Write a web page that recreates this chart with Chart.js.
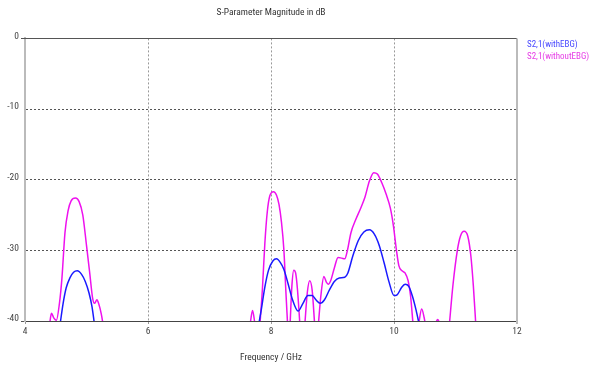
<!DOCTYPE html>
<html>
<head>
<meta charset="utf-8">
<script src="https://cdn.jsdelivr.net/npm/chart.js@4.4.1/dist/chart.umd.min.js"></script>
<style>
  html, body { margin: 0; padding: 0; background: #ffffff; }
  #wrap { width: 590px; height: 365px; }
</style>
</head>
<body>
<div id="wrap"><canvas id="c" width="590" height="365"></canvas></div>
<script>
const chartTitle = 'S-Parameter Magnitude in dB';
const xAxisTitle = 'Frequency / GHz';
const seriesNames = ['S2,1(withEBG)', 'S2,1(withoutEBG)'];
const xTicks = [4, 6, 8, 10, 12];
const yTicks = [0, -10, -20, -30, -40];

// S2,1 with EBG (null = below -40 dB, gap)
const freqWith = [4.57, 4.62, 4.67, 4.73, 4.79, 4.85, 4.92, 4.98, 5.04, 5.09, 5.13,
  6.5,
  7.80, 7.84, 7.90, 7.96, 8.03, 8.09, 8.15, 8.21, 8.28, 8.35, 8.44, 8.52, 8.60, 8.67, 8.73, 8.80, 8.87, 8.95,
  9.03, 9.11, 9.20, 9.25, 9.33, 9.42, 9.51, 9.60, 9.68, 9.76, 9.84, 9.92, 10.00, 10.05, 10.12, 10.18, 10.24,
  10.30, 10.36, 10.41];
const dbWith = [-40.5, -37.5, -35.3, -33.9, -33.1, -32.9, -33.4, -34.4, -36.0, -38.0, -40.5,
  null,
  -40.5, -38.5, -35.2, -32.8, -31.5, -31.2, -31.7, -32.7, -34.8, -37.0, -38.6, -37.5, -36.4, -36.4, -37.0, -37.5, -37.0, -35.6,
  -34.4, -33.9, -33.8, -33.2, -30.8, -28.6, -27.4, -27.1, -27.7, -29.3, -31.8, -34.5, -36.4, -36.3, -35.3, -34.8, -35.1,
  -36.5, -38.5, -40.5];

// S2,1 without EBG
const freqWithout = [4.40, 4.43, 4.47, 4.51, 4.56, 4.60, 4.65, 4.70, 4.75, 4.82, 4.88, 4.94, 5.00, 5.05, 5.10, 5.13, 5.17, 5.20, 5.24, 5.27,
  6.5,
  7.66, 7.70, 7.74,
  7.78,
  7.82, 7.86, 7.90, 7.94, 7.98, 8.04, 8.09, 8.13, 8.17, 8.21, 8.24, 8.27,
  8.29,
  8.31, 8.34, 8.37, 8.40, 8.43, 8.47,
  8.51,
  8.55, 8.59, 8.63, 8.67, 8.71,
  8.74,
  8.77, 8.81, 8.86, 8.90, 8.93, 8.97, 9.03, 9.09, 9.15, 9.20, 9.24, 9.30, 9.38, 9.46, 9.53, 9.60, 9.67, 9.73,
  9.80, 9.87, 9.94, 9.99, 10.04, 10.08, 10.13, 10.18, 10.23, 10.27, 10.31,
  10.35,
  10.40, 10.45, 10.49, 10.51,
  10.60,
  10.68, 10.71, 10.74,
  10.82,
  10.90, 10.96, 11.03, 11.08, 11.14, 11.20, 11.25, 11.29, 11.33];
const dbWithout = [-40.5, -38.9, -39.6, -39.9, -37.5, -34.0, -27.5, -24.4, -23.0, -22.6, -23.1, -25.0, -29.3, -33.0, -36.8, -37.5, -37.0, -37.6, -39.0, -40.5,
  null,
  -40.5, -38.5, -40.5,
  null,
  -40.5, -35.5, -29.0, -24.5, -22.3, -21.7, -22.2, -23.5, -26.0, -30.0, -35.5, -40.5,
  null,
  -40.5, -35.0, -32.8, -33.2, -35.5, -40.5,
  null,
  -40.5, -36.0, -34.3, -35.7, -40.5,
  null,
  -40.5, -36.5, -33.7, -34.5, -34.8, -34.3, -32.5, -31.0, -31.1, -31.2, -30.1, -27.5, -25.6, -24.0, -22.4, -20.2, -19.0, -19.2,
  -20.4, -22.0, -24.0, -26.5, -30.0, -32.2, -32.9, -33.2, -34.3, -36.5, -40.5,
  null,
  -40.5, -38.3, -39.5, -40.5,
  null,
  -40.2, -39.8, -40.2,
  null,
  -40.5, -34.8, -30.0, -28.0, -27.3, -28.0, -30.8, -35.0, -40.5];

const toPoints = (xs, ys) => xs.map((x, i) => ({ x: x, y: ys[i] }));

const FONT = "'Roboto Condensed', 'Liberation Sans', Arial, sans-serif";
const FSIZE = 9.5;
const lineColors = ['#1a1aff', '#ee11ee'];
const legendColors = ['#4848ff', '#e63ce6'];

const framePlugin = {
  id: 'frameAndLegend',
  afterDraw(chart) {
    const { ctx, chartArea: a } = chart;
    ctx.save();
    // top border (dark) with small left tick
    ctx.strokeStyle = '#555555';
    ctx.lineWidth = 1;
    ctx.beginPath();
    ctx.moveTo(a.left - 4, Math.round(a.top) + 0.5);
    ctx.lineTo(a.right, Math.round(a.top) + 0.5);
    ctx.stroke();
    // right border (light)
    ctx.strokeStyle = '#bbbbbb';
    ctx.lineWidth = 2;
    ctx.beginPath();
    ctx.moveTo(a.right, a.top);
    ctx.lineTo(a.right, a.bottom + 3);
    ctx.stroke();
    // legend
    ctx.font = '9px ' + FONT;
    ctx.textAlign = 'left';
    ctx.textBaseline = 'middle';
    chart.data.datasets.forEach((ds, i) => {
      ctx.fillStyle = legendColors[i];
      ctx.fillText(ds.label, a.right + 10, a.top + 6 + i * 12);
    });
    ctx.restore();
  }
};

new Chart(document.getElementById('c'), {
  type: 'line',
  data: {
    datasets: [
      {
        label: seriesNames[0],
        data: toPoints(freqWith, dbWith),
        borderColor: lineColors[0],
        borderWidth: 1.5,
        pointRadius: 0,
        cubicInterpolationMode: 'monotone',
        spanGaps: false,
        fill: false
      },
      {
        label: seriesNames[1],
        data: toPoints(freqWithout, dbWithout),
        borderColor: lineColors[1],
        borderWidth: 1.5,
        pointRadius: 0,
        cubicInterpolationMode: 'monotone',
        spanGaps: false,
        fill: false
      }
    ]
  },
  options: {
    responsive: false,
    animation: false,
    layout: { padding: { left: 0, right: 73, top: 0, bottom: 0 } },
    plugins: {
      legend: { display: false },
      tooltip: { enabled: false },
      title: {
        display: true,
        text: chartTitle,
        fullSize: false,
        color: '#333333',
        font: { family: FONT, size: FSIZE, weight: 'normal' },
        padding: { top: 7, bottom: 20 }
      }
    },
    scales: {
      x: {
        type: 'linear',
        min: 4,
        max: 12,
        afterFit(s) { s.height = 44; },
        afterBuildTicks(s) { s.ticks = xTicks.map(v => ({ value: v })); },
        ticks: {
          color: '#444444',
          font: { family: FONT, size: FSIZE },
          padding: 2,
          maxRotation: 0,
          autoSkip: false
        },
        grid: {
          color: (c) => (c.tick && (c.tick.value === 4 || c.tick.value === 12)) ? 'rgba(0,0,0,0)' : '#999999',
          lineWidth: 1,
          tickLength: 3,
          tickColor: '#999999'
        },
        border: { display: true, color: '#444444', width: 1, dash: [2, 2] },
        title: {
          display: true,
          text: xAxisTitle,
          color: '#333333',
          font: { family: FONT, size: FSIZE },
          padding: { top: 0, bottom: 2 }
        }
      },
      y: {
        type: 'linear',
        min: -40,
        max: 0,
        afterFit(s) { s.width = 25; },
        afterBuildTicks(s) { s.ticks = yTicks.map(v => ({ value: v })); },
        ticks: {
          color: '#444444',
          font: { family: FONT, size: FSIZE },
          padding: 2,
          labelOffset: -2,
          autoSkip: false
        },
        grid: {
          color: (c) => (c.tick && (c.tick.value === 0 || c.tick.value === -40)) ? 'rgba(0,0,0,0)' : '#555555',
          lineWidth: 1,
          tickLength: 4,
          tickColor: (c) => (c.tick && (c.tick.value === 0 || c.tick.value === -40)) ? '#555555' : 'rgba(0,0,0,0)'
        },
        border: { display: true, color: '#bbbbbb', width: 2, dash: [2, 2] }
      }
    }
  },
  plugins: [framePlugin]
});
</script>
</body>
</html>
